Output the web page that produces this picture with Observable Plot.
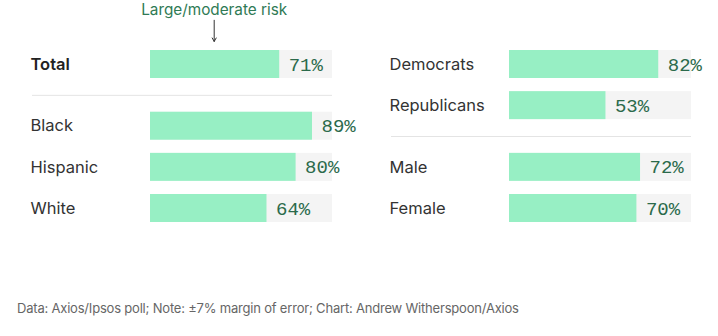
<!DOCTYPE html>
<html>
<head>
<meta charset="utf-8">
<script src="https://cdn.jsdelivr.net/npm/d3@7"></script>
<script src="https://cdn.jsdelivr.net/npm/@observablehq/plot@0.6"></script>
<style>
  html, body { margin: 0; padding: 0; background: #fff; }
  #chart { width: 718px; }
  .foot { font-family: Inter, "Noto Sans", sans-serif; font-size: 13px; color: #666; margin: 60px 0 0 17px; letter-spacing: -0.2px; }
</style>
</head>
<body>
<div id="chart"></div>
<div class="foot" id="foot"></div>
<script>
// Data
const leftLabels = ["Total", "Black", "Hispanic", "White"];
const leftGroups = [0, 1, 1, 1];
const leftValues = [71, 89, 80, 64];
const rightLabels = ["Democrats", "Republicans", "Male", "Female"];
const rightGroups = [0, 0, 1, 1];
const rightValues = [82, 53, 72, 70];
const annotationText = "Large/moderate risk";
const annotationAt = 35;
const footer = "Data: Axios/Ipsos poll; Note: ±7% margin of error; Chart: Andrew Witherspoon/Axios";

function build(panel, labels, groups, values) {
  return labels.map((label, i) => ({
    panel, label, value: values[i], bold: label === "Total",
    row: i * 2 + groups[i]
  }));
}
const rows = [
  ...build("left", leftLabels, leftGroups, leftValues),
  ...build("right", rightLabels, rightGroups, rightValues)
];
const seps = [];
for (const p of ["left", "right"]) {
  const r = rows.filter(d => d.panel === p);
  for (let i = 1; i < r.length; i++) {
    if (r[i].row - r[i - 1].row > 2) seps.push({panel: p, row: (r[i].row + r[i - 1].row) / 2});
  }
}
const ann = [{panel: "left", x: annotationAt, label: annotationText, top: rows[0].row}];
const half = 0.68;

const chart = Plot.plot({
  width: 718,
  height: 240,
  marginLeft: 149,
  marginRight: 27,
  marginTop: 64,
  marginBottom: 32,
  fx: {domain: ["left", "right"], paddingInner: 0.4944, paddingOuter: 0, axis: null},
  x: {domain: [0, 100], axis: null},
  y: {domain: [0, 7], reverse: true, axis: null},
  style: {fontFamily: "Inter, 'Noto Sans', sans-serif", overflow: "visible"},
  marks: [
    Plot.ruleY(seps, {fx: "panel", y: "row", stroke: "#e4e4e4", strokeWidth: 1, insetLeft: -118}),
    Plot.rectX(rows, {fx: "panel", x1: 0, x2: 100, y1: d => d.row - half, y2: d => d.row + half, fill: "#f4f4f4"}),
    Plot.rectX(rows, {fx: "panel", x1: 0, x2: "value", y1: d => d.row - half, y2: d => d.row + half, fill: "#97efc4"}),
    Plot.text(rows.filter(d => !d.bold), {fx: "panel", x: 0, y: "row", text: "label", dx: -120, textAnchor: "start",
      fontSize: 16.5, fill: "#333", letterSpacing: 0.45}),
    Plot.text(rows.filter(d => d.bold), {fx: "panel", x: 0, y: "row", text: "label", dx: -120, textAnchor: "start",
      fontSize: 16.5, fill: "#222", fontWeight: 600}),
    Plot.text(rows, {fx: "panel", x: "value", y: "row", text: d => d.value + "%", dx: 9, textAnchor: "start",
      fontSize: 19, fill: "#2b6a4b", fontFamily: "'Liberation Mono', monospace", letterSpacing: 0.3}),
    Plot.text(ann, {fx: "panel", x: "x", frameAnchor: "top", dy: -50, text: "label",
      fontSize: 15.3, fill: "#2f7a55", lineAnchor: "bottom"}),
    Plot.arrow(ann, {fx: "panel", x1: "x", x2: "x", y1: d => d.top - 2.15, y2: d => d.top - 1.12, stroke: "#333",
      strokeWidth: 1, headLength: 6, bend: 0})
  ]
});
document.getElementById("chart").appendChild(chart);
document.getElementById("foot").textContent = footer;
</script>
</body>
</html>
